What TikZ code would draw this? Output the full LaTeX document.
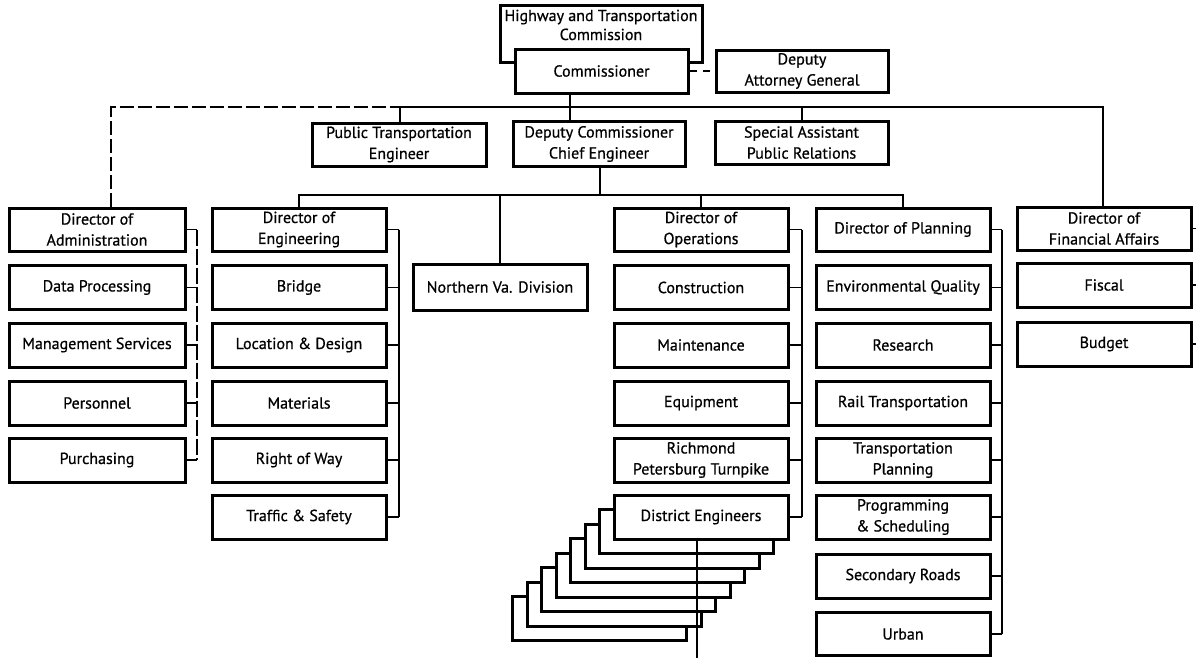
\documentclass[tikz,border=0pt]{standalone}
\usepackage{fontspec}
\setmainfont{PT Sans}[FakeBold=0.7]
\tikzset{
  box/.style={draw, line width=3pt, fill=white, minimum width=174pt, minimum height=44pt,
    align=center, inner sep=2pt, font=\fontsize{16}{21}\selectfont},
  conn/.style={line width=1.3pt},
  dconn/.style={line width=1.3pt, dash pattern=on 14pt off 4pt},
  sdconn/.style={line width=1.3pt, dash pattern=on 7pt off 6pt},
}
\begin{document}
\begin{tikzpicture}[x=1pt,y=-1pt]
\useasboundingbox (0,0) rectangle (1196,657);
% ---------- top ----------
\node[box, minimum width=202pt, minimum height=57pt,
  label={[anchor=north, inner sep=0pt, yshift=-6pt, align=center, font=\fontsize{16}{19}\selectfont]north:{Highway and Transportation\\Commission}}]
  (commission) at (601,33.5) {};
\node[box, minimum width=173pt] (commissioner) at (601.5,71) {Commissioner};
\node[box, minimum width=172pt, minimum height=42pt] (dag) at (802,71) {Deputy\\Attorney General};
\node[box, minimum height=43pt] (pte) at (399,144.5) {Public Transportation\\Engineer};
\node[box, minimum width=172pt, minimum height=45pt] (dcce) at (599,144) {Deputy Commissioner\\Chief Engineer};
\node[box, minimum width=173pt, minimum height=43pt] (sapr) at (801.5,142.5) {Special Assistant\\Public Relations};
% ---------- directors ----------
\node[box, minimum width=176pt, minimum height=43pt] (dirAdm) at (97,229.5) {Director of\\Administration};
\node[box, minimum height=43pt] (dirEng) at (299,229.5) {Director of\\Engineering};
\node[box, minimum height=46pt] (nva) at (500,287) {Northern Va. Division};
\node[box, minimum height=43pt] (dirOps) at (701,229.5) {Director of\\Operations};
\node[box, minimum height=43pt] (dirPlan) at (903,229.5) {Director of Planning};
\node[box, minimum height=43pt] (dirFin) at (1104,228.5) {Director of\\Financial Affairs};
% ---------- administration ----------
\node[box, minimum width=176pt] (dp) at (97,287.5) {Data Processing};
\node[box, minimum width=176pt] (ms) at (97,345) {Management Services};
\node[box, minimum width=176pt] (pers) at (97,403) {Personnel};
\node[box, minimum width=176pt] (purch) at (97,460) {Purchasing};
% ---------- engineering ----------
\node[box] (bridge) at (299,287.5) {Bridge};
\node[box] (locd) at (299,345) {Location \& Design};
\node[box] (mat) at (299,403) {Materials};
\node[box] (row) at (299,460) {Right of Way};
\node[box] (traf) at (299,517) {Traffic \& Safety};
% ---------- operations ----------
\node[box] (constr) at (701,287.5) {Construction};
\node[box] (maint) at (701,345) {Maintenance};
\node[box] (equip) at (701,403) {Equipment};
\node[box] (rich) at (701,460) {Richmond\\Petersburg Turnpike};
\foreach \k in {7,6,...,1}
  \node[box] (dist\k) at (701-14.5*\k,517+14.5*\k) {};
\node[box] (dist) at (701,517) {District Engineers};
% ---------- planning ----------
\node[box] (env) at (903,287.5) {Environmental Quality};
\node[box] (res) at (903,345) {Research};
\node[box] (rail) at (903,403) {Rail Transportation};
\node[box] (tp) at (903,460) {Transportation\\Planning};
\node[box] (prog) at (903,517) {Programming\\\& Scheduling};
\node[box] (sec) at (903,576) {Secondary Roads};
\node[box, minimum height=43pt] (urban) at (903,634) {Urban};
% ---------- financial ----------
\node[box] (fiscal) at (1104,285) {Fiscal};
\node[box] (budget) at (1104,344) {Budget};
% ---------- junction coordinates ----------
\coordinate (busL) at (111,107);
\coordinate (jPTE) at (400,107);
\coordinate (jCom) at (570,107);
\coordinate (jSA) at (802,107);
\coordinate (busR) at (1103,107);
\coordinate (b2L) at (299,195);
\coordinate (jDep) at (600,195);
\coordinate (b2R) at (903,195);
\coordinate (bxAdm) at (197,0);
\coordinate (bxEng) at (399,0);
\coordinate (bxOps) at (802,0);
\coordinate (bxPlan) at (1002,0);
\coordinate (bxFin) at (1198,0);
\coordinate (deEnd) at (697,660);
\coordinate (deTop) at (697,0);
% ---------- connectors top ----------
\draw[sdconn] (commissioner) -- (dag);
\draw[dconn] (dirAdm.north -| busL) -- (busL) -- (jPTE);
\draw[conn] (jPTE) -- (busR) -- (dirFin.north -| busR);
\draw[conn] (jPTE) -- (pte.north -| jPTE);
\draw[conn] (commissioner.south -| jCom) -- (dcce.north -| jCom);
\draw[conn] (jSA) -- (sapr.north -| jSA);
\draw[conn] (dcce.south -| jDep) -- (jDep);
\draw[conn] (dirEng.north) -- (b2L) -- (b2R) -- (dirPlan.north);
\draw[conn] (nva.north) -- (nva.north |- b2L);
\draw[conn] (dirOps.north) -- (dirOps.north |- b2L);
% ---------- brackets ----------
\foreach \n in {dirAdm,dp,ms,pers,purch} \draw[conn] (\n.east) -- (\n.east -| bxAdm);
\draw[line width=1.3pt, dash pattern=on 16pt off 3pt] (dirAdm.east -| bxAdm) -- (purch.east -| bxAdm);
\foreach \n in {dirEng,bridge,locd,mat,row,traf} \draw[conn] (\n.east) -- (\n.east -| bxEng);
\draw[conn] (dirEng.east -| bxEng) -- (traf.east -| bxEng);
\foreach \n in {dirOps,constr,maint,equip,rich,dist} \draw[conn] (\n.east) -- (\n.east -| bxOps);
\draw[conn] (dirOps.east -| bxOps) -- (dist.east -| bxOps);
\foreach \n in {dirPlan,env,res,rail,tp,prog,sec,urban} \draw[conn] (\n.east) -- (\n.east -| bxPlan);
\draw[conn] (dirPlan.east -| bxPlan) -- (urban.east -| bxPlan);
\foreach \n in {dirFin,fiscal,budget} \draw[conn] (\n.east) -- (\n.east -| bxFin);
\draw[conn] (dirFin.east -| bxFin) -- (budget.east -| bxFin);
% ---------- district engineers line ----------
\draw[conn] (dist.south -| deTop) -- (deEnd);
\end{tikzpicture}
\end{document}
